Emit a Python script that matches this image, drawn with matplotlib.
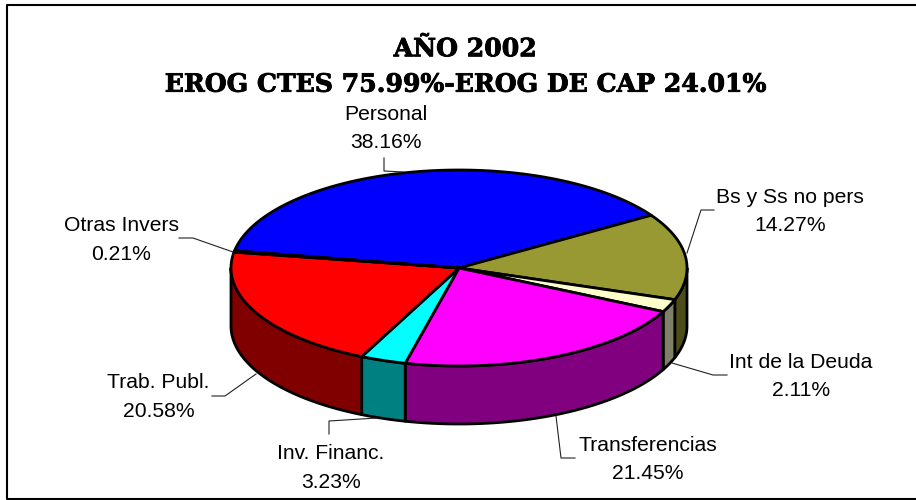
import numpy as np
import matplotlib
matplotlib.use("Agg")
import matplotlib.pyplot as plt
import matplotlib.patheffects as pe
from matplotlib.patches import Polygon

names = ["Personal", "Bs y Ss no pers", "Int de la Deuda", "Transferencias",
         "Inv. Financ.", "Trab. Publ.", "Otras Invers"]
values = [38.16, 14.27, 2.11, 21.45, 3.23, 20.58, 0.21]
top_colors = ["#0000FF", "#999933", "#FFFFCC", "#FF00FF", "#00FFFF", "#FF0000", "#993366"]
side_colors = ["#000080", "#4D4D1A", "#808066", "#800080", "#008080", "#800000", "#4D1A33"]
title_lines = "AÑO 2002\nEROG CTES 75.99%-EROG DE CAP 24.01%"

label_xy = [(386, 128.5), (790, 211.5), (801, 376.5), (648, 459.5), (331, 468), (158.5, 397), (121, 240)]
leaders = [
    [(384, 158), (384, 171), (403, 172)],
    [(714, 210), (701, 210), (687, 253)],
    [(727, 375), (713, 375), (672, 363)],
    [(575, 458), (561, 458), (556, 416)],
    [(329, 434), (329, 421), (377, 418)],
    [(212, 396), (225, 396), (256, 374)],
    [(179, 238), (193, 238), (233, 252)],
]

CX, CY, RX, RY, DEPTH = 459, 268, 228, 98, 58
START = 169.9

fig = plt.figure(figsize=(9.16, 5.0), dpi=100)
ax = fig.add_axes([0, 0, 1, 1])
ax.set_xlim(0, 916)
ax.set_ylim(500, 0)
ax.axis("off")

# chart frame: the right side falls outside the picture
ax.plot([920, 7, 7, 920], [4.5, 4.5, 498.5, 498.5], color="black", lw=1.5, zorder=1)

def arc(t0, t1, dy=0.0):
    t = np.radians(np.linspace(t0, t1, max(int(abs(t1 - t0) * 2), 2) + 1))
    return np.column_stack([CX + RX * np.cos(t), CY + dy - RY * np.sin(t)])

total = sum(values)
angle = START
spans = []
for v in values:
    sweep = v / total * 360
    spans.append((angle - sweep, angle))
    angle -= sweep

# side walls: only the part of each slice on the front half (-180..0 degrees)
for (a0, a1), col in zip(spans, side_colors):
    for k in (0, -360, 360):
        lo, hi = max(a0 - k, -180), min(a1 - k, 0)
        if hi > lo:
            top = arc(lo, hi)
            bot = arc(hi, lo, DEPTH)
            ax.add_patch(Polygon(np.vstack([top, bot]), closed=True, fc=col, ec="black",
                                 lw=2.0, joinstyle="round", zorder=2))
# top faces
for (a0, a1), col in zip(spans, top_colors):
    pts = np.vstack([[(CX, CY)], arc(a0, a1)])
    ax.add_patch(Polygon(pts, closed=True, fc=col, ec="black", lw=2.0,
                         joinstyle="round", zorder=3))

for pts in leaders:
    p = np.array(pts)
    ax.plot(p[:, 0], p[:, 1], color="#222222", lw=0.8, zorder=4)

for n, v, (x, y) in zip(names, values, label_xy):
    ax.text(x, y, f"{n}\n{v:.2f}%", ha="center", va="center", fontsize=15.2,
            family="Liberation Sans", linespacing=1.62, color="black", zorder=5)

ax.text(465, 67, title_lines, ha="center", va="center", fontsize=18.1,
        family="DejaVu Serif", weight="bold", linespacing=1.6, zorder=5,
        path_effects=[pe.withStroke(linewidth=0.6, foreground="black")])

fig.savefig("out.png", dpi=100)
